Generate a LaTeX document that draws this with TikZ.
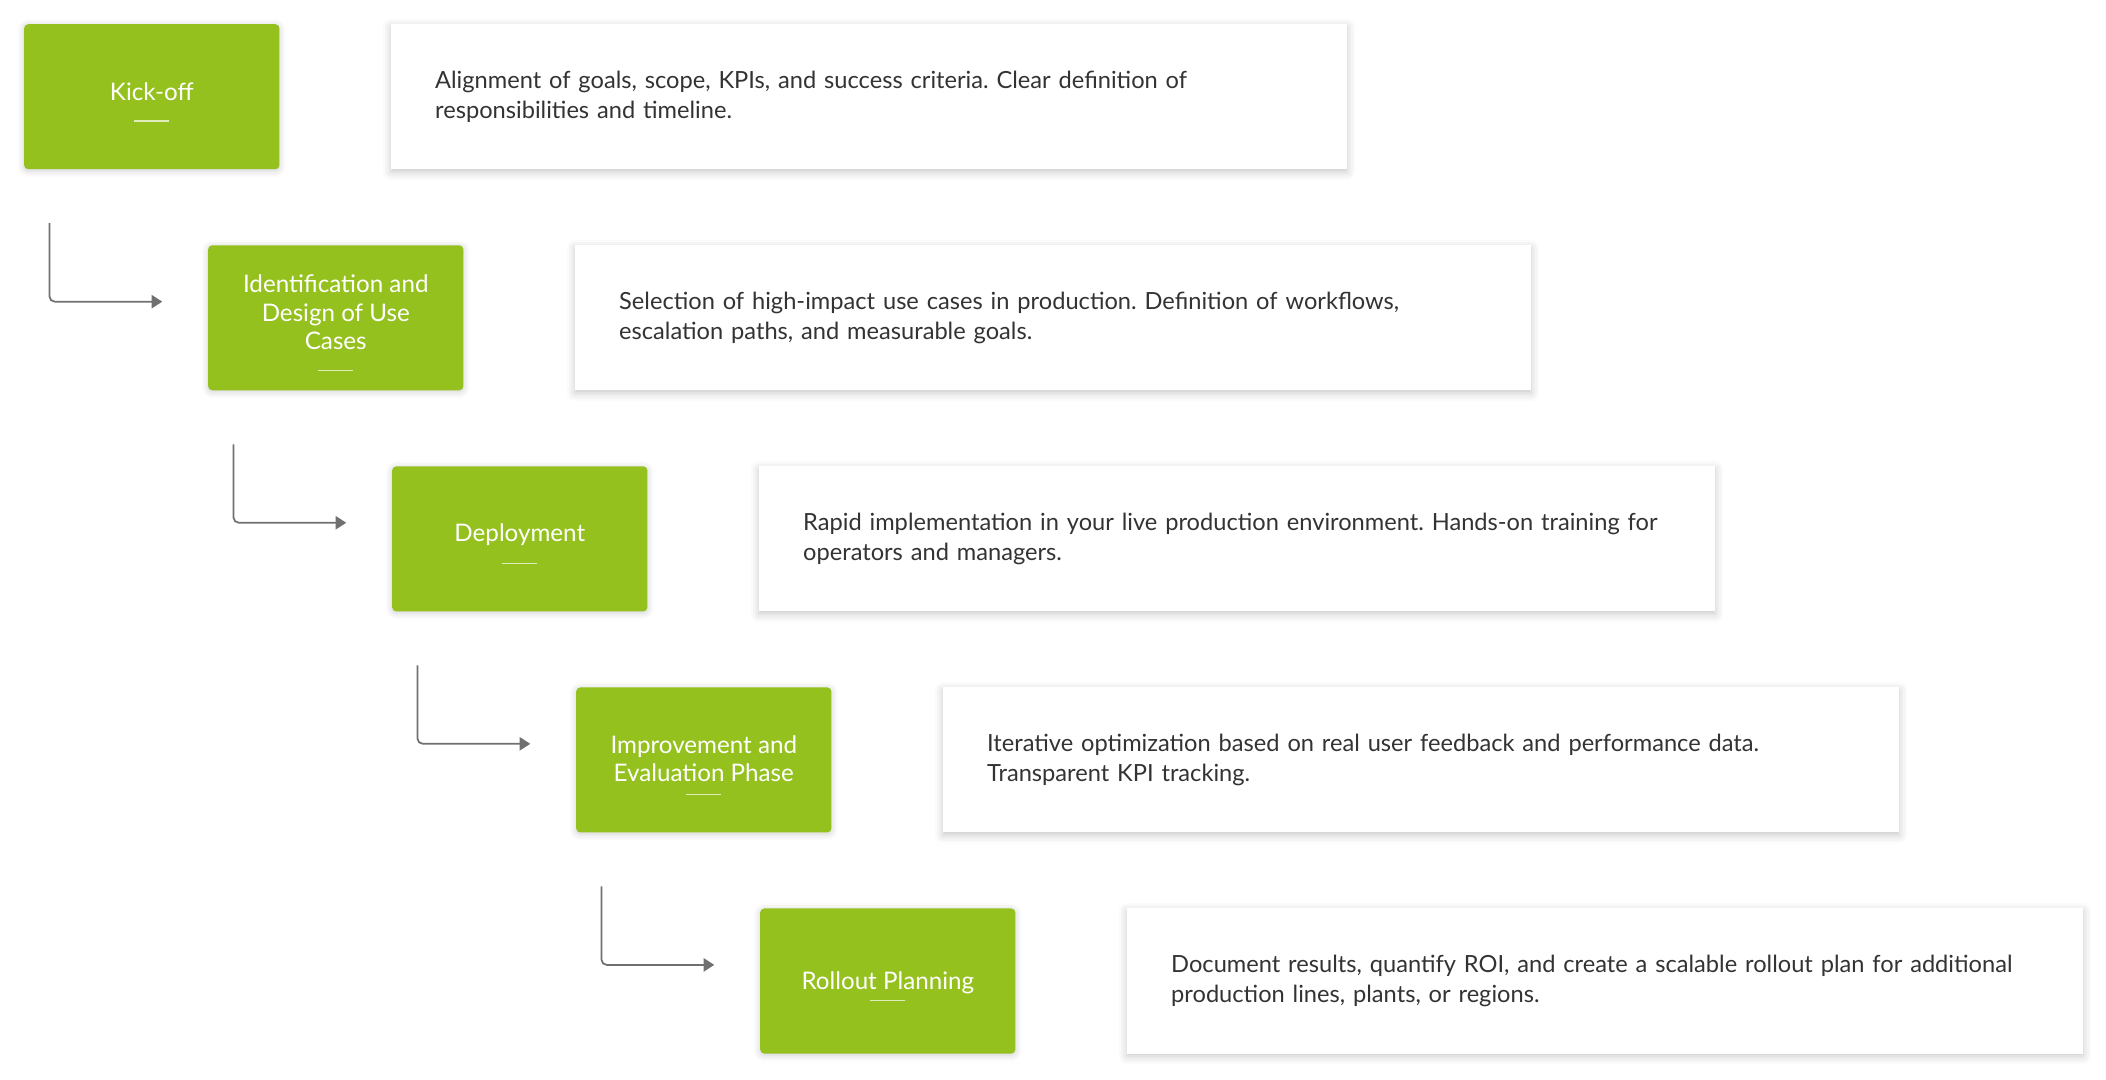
\documentclass[tikz,border=0pt]{standalone}
\usepackage{fontspec}
\setmainfont{Lato}
\usetikzlibrary{arrows.meta,shadows.blur}
\definecolor{stagegreen}{HTML}{95C11F}
\definecolor{notetext}{HTML}{333333}
\definecolor{flowgray}{HTML}{707070}
\tikzset{
  stage/.style={fill=stagegreen, rounded corners=3pt, minimum width=190pt, minimum height=108pt,
    text=white, align=center, font=\fontsize{18}{21}\selectfont,
    blur shadow={shadow xshift=0pt, shadow yshift=-1pt, shadow blur radius=5pt, shadow opacity=20}},
  note/.style={fill=white, minimum height=108pt, text width=646pt, inner xsep=33pt,
    align=left, text=notetext, font=\fontsize{17.6}{22}\selectfont,
    blur shadow={shadow xshift=0pt, shadow yshift=-2pt, shadow blur radius=6pt, shadow opacity=22}},
  flow/.style={draw=flowgray, line width=1.3pt, rounded corners=4pt, -{Triangle[length=8pt,width=10pt]}}
}
\newcommand{\stagetop}{\rule{0pt}{21pt}}
\newcommand{\stagerule}[1]{\\[#1]{\color{white!70!stagegreen}\rule{26pt}{0.9pt}}}
\frenchspacing
\begin{document}
\begin{tikzpicture}[x=1pt,y=-1pt]
    \useasboundingbox (0,0) rectangle (1568,804);
    % stages
    \node [stage] (k1) at (113,72) {\stagetop Kick-off\stagerule{-5pt}};
    \node [stage] (k2) at (250,236.6) {\stagetop Identification and\\Design of Use\\Cases\stagerule{-5pt}};
    \node [stage] (k3) at (387,401.2) {\stagetop Deployment\stagerule{-4pt}};
    \node [stage] (k4) at (524,565.8) {\stagetop Improvement and\\Evaluation Phase\stagerule{-11pt}};
    \node [stage] (k5) at (661,730.4) {\stagetop Rollout Planning\stagerule{-12pt}};
    % descriptions
    \node [note] (d1) at (647,72) {Alignment of goals, scope, KPIs, and success criteria. Clear definition of\\responsibilities and timeline.};
    \node [note] (d2) at (784,236.6) {Selection of high-impact use cases in production. Definition of workflows,\\escalation paths, and measurable goals.};
    \node [note] (d3) at (921,401.2) {Rapid implementation in your live production environment. Hands-on training for\\operators and managers.};
    \node [note] (d4) at (1058,565.8) {Iterative optimization based on real user feedback and performance data.\\Transparent KPI tracking.};
    \node [note] (d5) at (1195,730.4) {Document results, quantify ROI, and create a scalable rollout plan for additional\\production lines, plants, or regions.};
    % connectors
    \foreach \a/\b in {k1/k2,k2/k3,k3/k4,k4/k5}
        \draw [flow] ([shift={(19pt,-40pt)}]\a.south west) |- ([shift={(-34pt,12pt)}]\b.west);
\end{tikzpicture}
\end{document}
